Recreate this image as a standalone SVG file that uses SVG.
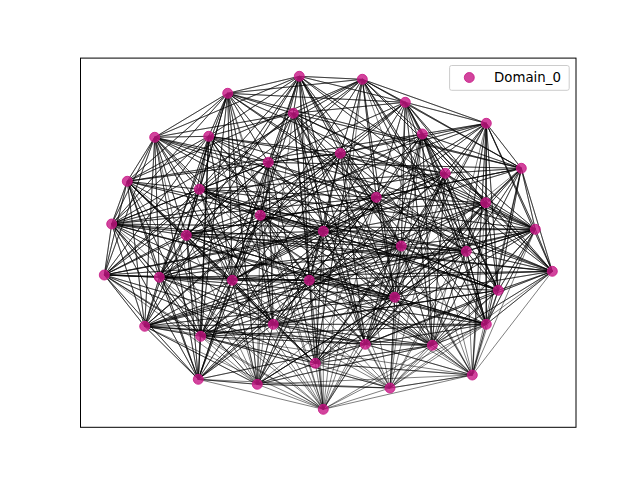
<svg xmlns="http://www.w3.org/2000/svg" width="640" height="480" viewBox="0 0 640 480">
<style>
.e{fill:none;stroke:#000;stroke-opacity:0.5;stroke-width:1;stroke-linejoin:round}
.n{fill:#C71585;fill-opacity:0.8;stroke:#C71585;stroke-opacity:0.8;stroke-width:1}
.lt{font-family:"DejaVu Sans",sans-serif;font-size:13.33px;fill:#000}
</style>
<rect x="0" y="0" width="640" height="480" fill="#fff"/>
<g id="edges">
<path class="e" d="M299.3 76.3L362.3 79.3 299.3 76.3 227.7 93.3 299.3 76.3 405.3 102.3 299.3 76.3 293.3 113.3 299.3 76.3 208.7 136.3 299.3 76.3 268.3 162.3 299.3 76.3 445.3 173.3 299.3 76.3 199.3 189.3 299.3 76.3 260.3 215.3 299.3 76.3 323.3 231.3 299.3 76.3 401.3 246 299.3 76.3 159.3 277.3 299.3 76.3 309.3 280.3 299.3 76.3 144.7 326.3 299.3 76.3 365.3 344.3 299.3 76.3 198.3 379.3 299.3 76.3 323.3 409.3"/>
<path class="e" d="M362.3 79.3L405.3 102.3 362.3 79.3 293.3 113.3 362.3 79.3 486.3 123.3 362.3 79.3 422.3 134 362.3 79.3 340.3 153.3 362.3 79.3 127.3 181.3 362.3 79.3 485.7 202.7 362.3 79.3 111.7 224 362.3 79.3 186.3 235.3 362.3 79.3 104.3 275 362.3 79.3 232.3 280.3 362.3 79.3 394.7 297.3 362.3 79.3 486.3 324.3 362.3 79.3 315.3 363.3 362.3 79.3 472.3 375"/>
<path class="e" d="M227.7 93.3L293.3 113.3 227.7 93.3 154.7 137.3 227.7 93.3 208.7 136.3 227.7 93.3 268.3 162.3 227.7 93.3 521.3 168.3 227.7 93.3 199.3 189.3 227.7 93.3 376.3 197.3 227.7 93.3 535.3 229.3 227.7 93.3 466.3 251.3 227.7 93.3 232.3 280.3 227.7 93.3 273.3 324.3 227.7 93.3 200.7 336.3 227.7 93.3 257.3 384.3 227.7 93.3 323.3 409.3"/>
<path class="e" d="M405.3 102.3L486.3 123.3 405.3 102.3 422.3 134 405.3 102.3 268.3 162.3 405.3 102.3 445.3 173.3 405.3 102.3 376.3 197.3 405.3 102.3 260.3 215.3 405.3 102.3 323.3 231.3 405.3 102.3 552.3 271.3 405.3 102.3 159.3 277.3 405.3 102.3 498.3 290.3 405.3 102.3 144.7 326.3 405.3 102.3 432.3 345.3 405.3 102.3 390 388"/>
<path class="e" d="M293.3 113.3L154.7 137.3 293.3 113.3 340.3 153.3 293.3 113.3 521.3 168.3 293.3 113.3 199.3 189.3 293.3 113.3 485.7 202.7 293.3 113.3 535.3 229.3 293.3 113.3 401.3 246 293.3 113.3 104.3 275 293.3 113.3 309.3 280.3 293.3 113.3 486.3 324.3 293.3 113.3 432.3 345.3 293.3 113.3 257.3 384.3"/>
<path class="e" d="M486.3 123.3L422.3 134 486.3 123.3 521.3 168.3 486.3 123.3 445.3 173.3 486.3 123.3 485.7 202.7 486.3 123.3 111.7 224 486.3 123.3 186.3 235.3 486.3 123.3 466.3 251.3 486.3 123.3 232.3 280.3 486.3 123.3 394.7 297.3 486.3 123.3 200.7 336.3 486.3 123.3 315.3 363.3 486.3 123.3 472.3 375 486.3 123.3 323.3 409.3"/>
<path class="e" d="M154.7 137.3L208.7 136.3 154.7 137.3 268.3 162.3 154.7 137.3 127.3 181.3 154.7 137.3 376.3 197.3 154.7 137.3 111.7 224 154.7 137.3 323.3 231.3 154.7 137.3 552.3 271.3 154.7 137.3 159.3 277.3 154.7 137.3 498.3 290.3 154.7 137.3 273.3 324.3 154.7 137.3 365.3 344.3 154.7 137.3 198.3 379.3 154.7 137.3 390 388"/>
<path class="e" d="M208.7 136.3L340.3 153.3 208.7 136.3 445.3 173.3 208.7 136.3 199.3 189.3 208.7 136.3 260.3 215.3 208.7 136.3 535.3 229.3 208.7 136.3 401.3 246 208.7 136.3 104.3 275 208.7 136.3 309.3 280.3 208.7 136.3 144.7 326.3 208.7 136.3 200.7 336.3 208.7 136.3 432.3 345.3 208.7 136.3 472.3 375"/>
<path class="e" d="M422.3 134L340.3 153.3 422.3 134 521.3 168.3 422.3 134 127.3 181.3 422.3 134 485.7 202.7 422.3 134 323.3 231.3 422.3 134 466.3 251.3 422.3 134 159.3 277.3 422.3 134 498.3 290.3 422.3 134 486.3 324.3 422.3 134 365.3 344.3 422.3 134 257.3 384.3 422.3 134 323.3 409.3"/>
<path class="e" d="M268.3 162.3L521.3 168.3 268.3 162.3 199.3 189.3 268.3 162.3 376.3 197.3 268.3 162.3 111.7 224 268.3 162.3 186.3 235.3 268.3 162.3 552.3 271.3 268.3 162.3 232.3 280.3 268.3 162.3 394.7 297.3 268.3 162.3 273.3 324.3 268.3 162.3 315.3 363.3 268.3 162.3 390 388"/>
<path class="e" d="M340.3 153.3L445.3 173.3 340.3 153.3 127.3 181.3 340.3 153.3 260.3 215.3 340.3 153.3 535.3 229.3 340.3 153.3 401.3 246 340.3 153.3 104.3 275 340.3 153.3 309.3 280.3 340.3 153.3 144.7 326.3 340.3 153.3 200.7 336.3 340.3 153.3 198.3 379.3 340.3 153.3 472.3 375"/>
<path class="e" d="M521.3 168.3L376.3 197.3 521.3 168.3 485.7 202.7 521.3 168.3 535.3 229.3 521.3 168.3 186.3 235.3 521.3 168.3 466.3 251.3 521.3 168.3 159.3 277.3 521.3 168.3 498.3 290.3 521.3 168.3 486.3 324.3 521.3 168.3 432.3 345.3 521.3 168.3 257.3 384.3"/>
<path class="e" d="M445.3 173.3L199.3 189.3 445.3 173.3 485.7 202.7 445.3 173.3 111.7 224 445.3 173.3 323.3 231.3 445.3 173.3 552.3 271.3 445.3 173.3 232.3 280.3 445.3 173.3 394.7 297.3 445.3 173.3 273.3 324.3 445.3 173.3 365.3 344.3 445.3 173.3 198.3 379.3 445.3 173.3 323.3 409.3"/>
<path class="e" d="M127.3 181.3L199.3 189.3 127.3 181.3 260.3 215.3 127.3 181.3 111.7 224 127.3 181.3 186.3 235.3 127.3 181.3 466.3 251.3 127.3 181.3 104.3 275 127.3 181.3 309.3 280.3 127.3 181.3 144.7 326.3 127.3 181.3 200.7 336.3 127.3 181.3 315.3 363.3 127.3 181.3 390 388"/>
<path class="e" d="M199.3 189.3L376.3 197.3 199.3 189.3 535.3 229.3 199.3 189.3 323.3 231.3 199.3 189.3 401.3 246 199.3 189.3 159.3 277.3 199.3 189.3 498.3 290.3 199.3 189.3 486.3 324.3 199.3 189.3 432.3 345.3 199.3 189.3 472.3 375"/>
<path class="e" d="M376.3 197.3L485.7 202.7 376.3 197.3 111.7 224 376.3 197.3 186.3 235.3 376.3 197.3 552.3 271.3 376.3 197.3 232.3 280.3 376.3 197.3 394.7 297.3 376.3 197.3 200.7 336.3 376.3 197.3 198.3 379.3 376.3 197.3 323.3 409.3"/>
<path class="e" d="M485.7 202.7L260.3 215.3 485.7 202.7 535.3 229.3 485.7 202.7 401.3 246 485.7 202.7 104.3 275 485.7 202.7 309.3 280.3 485.7 202.7 144.7 326.3 485.7 202.7 365.3 344.3 485.7 202.7 315.3 363.3 485.7 202.7 390 388"/>
<path class="e" d="M260.3 215.3L323.3 231.3 260.3 215.3 186.3 235.3 260.3 215.3 466.3 251.3 260.3 215.3 159.3 277.3 260.3 215.3 498.3 290.3 260.3 215.3 273.3 324.3 260.3 215.3 432.3 345.3 260.3 215.3 257.3 384.3"/>
<path class="e" d="M111.7 224L535.3 229.3 111.7 224 401.3 246 111.7 224 552.3 271.3 111.7 224 104.3 275 111.7 224 232.3 280.3 111.7 224 394.7 297.3 111.7 224 486.3 324.3 111.7 224 198.3 379.3 111.7 224 323.3 409.3"/>
<path class="e" d="M535.3 229.3L323.3 231.3 535.3 229.3 466.3 251.3 535.3 229.3 552.3 271.3 535.3 229.3 309.3 280.3 535.3 229.3 144.7 326.3 535.3 229.3 200.7 336.3 535.3 229.3 315.3 363.3 535.3 229.3 472.3 375"/>
<path class="e" d="M323.3 231.3L401.3 246 323.3 231.3 104.3 275 323.3 231.3 159.3 277.3 323.3 231.3 498.3 290.3 323.3 231.3 273.3 324.3 323.3 231.3 365.3 344.3 323.3 231.3 257.3 384.3 323.3 231.3 390 388"/>
<path class="e" d="M186.3 235.3L466.3 251.3 186.3 235.3 552.3 271.3 186.3 235.3 232.3 280.3 186.3 235.3 394.7 297.3 186.3 235.3 486.3 324.3 186.3 235.3 432.3 345.3 186.3 235.3 198.3 379.3 186.3 235.3 323.3 409.3"/>
<path class="e" d="M401.3 246L466.3 251.3 401.3 246 159.3 277.3 401.3 246 309.3 280.3 401.3 246 144.7 326.3 401.3 246 200.7 336.3 401.3 246 315.3 363.3 401.3 246 472.3 375"/>
<path class="e" d="M466.3 251.3L104.3 275 466.3 251.3 232.3 280.3 466.3 251.3 498.3 290.3 466.3 251.3 273.3 324.3 466.3 251.3 365.3 344.3 466.3 251.3 257.3 384.3 466.3 251.3 390 388"/>
<path class="e" d="M552.3 271.3L159.3 277.3 552.3 271.3 309.3 280.3 552.3 271.3 498.3 290.3 552.3 271.3 394.7 297.3 552.3 271.3 486.3 324.3 552.3 271.3 432.3 345.3 552.3 271.3 472.3 375"/>
<path class="e" d="M104.3 275L159.3 277.3 104.3 275 232.3 280.3 104.3 275 144.7 326.3 104.3 275 273.3 324.3 104.3 275 200.7 336.3 104.3 275 198.3 379.3 104.3 275 323.3 409.3"/>
<path class="e" d="M159.3 277.3L309.3 280.3 159.3 277.3 394.7 297.3 159.3 277.3 144.7 326.3 159.3 277.3 486.3 324.3 159.3 277.3 365.3 344.3 159.3 277.3 257.3 384.3"/>
<path class="e" d="M232.3 280.3L309.3 280.3 232.3 280.3 498.3 290.3 232.3 280.3 273.3 324.3 232.3 280.3 200.7 336.3 232.3 280.3 315.3 363.3 232.3 280.3 390 388"/>
<path class="e" d="M309.3 280.3L394.7 297.3 309.3 280.3 144.7 326.3 309.3 280.3 486.3 324.3 309.3 280.3 432.3 345.3 309.3 280.3 198.3 379.3 309.3 280.3 323.3 409.3"/>
<path class="e" d="M498.3 290.3L273.3 324.3 498.3 290.3 486.3 324.3 498.3 290.3 200.7 336.3 498.3 290.3 365.3 344.3 498.3 290.3 472.3 375"/>
<path class="e" d="M394.7 297.3L144.7 326.3 394.7 297.3 486.3 324.3 394.7 297.3 365.3 344.3 394.7 297.3 315.3 363.3 394.7 297.3 257.3 384.3 394.7 297.3 390 388"/>
<path class="e" d="M144.7 326.3L273.3 324.3 144.7 326.3 200.7 336.3 144.7 326.3 432.3 345.3 144.7 326.3 198.3 379.3 144.7 326.3 472.3 375"/>
<path class="e" d="M273.3 324.3L486.3 324.3 273.3 324.3 365.3 344.3 273.3 324.3 315.3 363.3 273.3 324.3 257.3 384.3 273.3 324.3 323.3 409.3"/>
<path class="e" d="M486.3 324.3L200.7 336.3 486.3 324.3 432.3 345.3 486.3 324.3 472.3 375 486.3 324.3 390 388"/>
<path class="e" d="M200.7 336.3L365.3 344.3 200.7 336.3 315.3 363.3 200.7 336.3 198.3 379.3 200.7 336.3 257.3 384.3"/>
<path class="e" d="M365.3 344.3L432.3 345.3 365.3 344.3 198.3 379.3 365.3 344.3 472.3 375 365.3 344.3 323.3 409.3"/>
<path class="e" d="M432.3 345.3L315.3 363.3 432.3 345.3 257.3 384.3 432.3 345.3 390 388"/>
<path class="e" d="M315.3 363.3L257.3 384.3 315.3 363.3 472.3 375 315.3 363.3 323.3 409.3"/>
<path class="e" d="M198.3 379.3L257.3 384.3 198.3 379.3 323.3 409.3"/>
<path class="e" d="M257.3 384.3L390 388 257.3 384.3 323.3 409.3"/>
<path class="e" d="M472.3 375L390 388 472.3 375 323.3 409.3"/>
<path class="e" d="M390 388L323.3 409.3"/>
<path class="e" d="M299.3 76.3L154.7 137.3 299.3 76.3 340.3 153.3 299.3 76.3 376.3 197.3 299.3 76.3 552.3 271.3 299.3 76.3 486.3 324.3 299.3 76.3 472.3 375"/>
<path class="e" d="M362.3 79.3L227.7 93.3 362.3 79.3 521.3 168.3 362.3 79.3 376.3 197.3 362.3 79.3 466.3 251.3 362.3 79.3 498.3 290.3 362.3 79.3 323.3 409.3"/>
<path class="e" d="M227.7 93.3L405.3 102.3 227.7 93.3 127.3 181.3 227.7 93.3 111.7 224 227.7 93.3 186.3 235.3 227.7 93.3 159.3 277.3 227.7 93.3 394.7 297.3 227.7 93.3 315.3 363.3"/>
<path class="e" d="M405.3 102.3L293.3 113.3 405.3 102.3 521.3 168.3 405.3 102.3 485.7 202.7 405.3 102.3 401.3 246 405.3 102.3 486.3 324.3 405.3 102.3 472.3 375"/>
<path class="e" d="M293.3 113.3L208.7 136.3 293.3 113.3 268.3 162.3 293.3 113.3 260.3 215.3 293.3 113.3 323.3 231.3 293.3 113.3 394.7 297.3 293.3 113.3 365.3 344.3 293.3 113.3 323.3 409.3"/>
<path class="e" d="M486.3 123.3L340.3 153.3 486.3 123.3 535.3 229.3 486.3 123.3 552.3 271.3 486.3 123.3 498.3 290.3 486.3 123.3 486.3 324.3 486.3 123.3 432.3 345.3"/>
<path class="e" d="M154.7 137.3L199.3 189.3 154.7 137.3 186.3 235.3 154.7 137.3 104.3 275 154.7 137.3 232.3 280.3 154.7 137.3 144.7 326.3 154.7 137.3 200.7 336.3"/>
<path class="e" d="M208.7 136.3L268.3 162.3 208.7 136.3 127.3 181.3 208.7 136.3 111.7 224 208.7 136.3 186.3 235.3 208.7 136.3 232.3 280.3 208.7 136.3 198.3 379.3 208.7 136.3 323.3 409.3"/>
<path class="e" d="M422.3 134L445.3 173.3 422.3 134 376.3 197.3 422.3 134 535.3 229.3 422.3 134 401.3 246 422.3 134 552.3 271.3 422.3 134 432.3 345.3 422.3 134 390 388"/>
<path class="e" d="M268.3 162.3L340.3 153.3 268.3 162.3 260.3 215.3 268.3 162.3 323.3 231.3 268.3 162.3 159.3 277.3 268.3 162.3 200.7 336.3 268.3 162.3 257.3 384.3"/>
<path class="e" d="M340.3 153.3L376.3 197.3 340.3 153.3 323.3 231.3 340.3 153.3 466.3 251.3 340.3 153.3 394.7 297.3 340.3 153.3 365.3 344.3 340.3 153.3 390 388"/>
<path class="e" d="M521.3 168.3L445.3 173.3 521.3 168.3 552.3 271.3 521.3 168.3 394.7 297.3 521.3 168.3 365.3 344.3 521.3 168.3 472.3 375"/>
<path class="e" d="M445.3 173.3L376.3 197.3 445.3 173.3 535.3 229.3 445.3 173.3 401.3 246 445.3 173.3 498.3 290.3 445.3 173.3 486.3 324.3 445.3 173.3 432.3 345.3 445.3 173.3 390 388"/>
<path class="e" d="M127.3 181.3L159.3 277.3 127.3 181.3 232.3 280.3 127.3 181.3 273.3 324.3 127.3 181.3 198.3 379.3 127.3 181.3 257.3 384.3"/>
<path class="e" d="M199.3 189.3L260.3 215.3 199.3 189.3 111.7 224 199.3 189.3 186.3 235.3 199.3 189.3 104.3 275 199.3 189.3 232.3 280.3 199.3 189.3 273.3 324.3 199.3 189.3 257.3 384.3"/>
<path class="e" d="M376.3 197.3L323.3 231.3 376.3 197.3 401.3 246 376.3 197.3 466.3 251.3 376.3 197.3 309.3 280.3 376.3 197.3 273.3 324.3 376.3 197.3 315.3 363.3"/>
<path class="e" d="M485.7 202.7L466.3 251.3 485.7 202.7 552.3 271.3 485.7 202.7 498.3 290.3 485.7 202.7 394.7 297.3 485.7 202.7 486.3 324.3 485.7 202.7 472.3 375"/>
<path class="e" d="M260.3 215.3L401.3 246 260.3 215.3 232.3 280.3 260.3 215.3 309.3 280.3 260.3 215.3 394.7 297.3 260.3 215.3 200.7 336.3 260.3 215.3 198.3 379.3 260.3 215.3 323.3 409.3"/>
<path class="e" d="M111.7 224L186.3 235.3 111.7 224 159.3 277.3 111.7 224 144.7 326.3 111.7 224 273.3 324.3 111.7 224 200.7 336.3 111.7 224 257.3 384.3"/>
<path class="e" d="M535.3 229.3L401.3 246 535.3 229.3 498.3 290.3 535.3 229.3 394.7 297.3 535.3 229.3 486.3 324.3 535.3 229.3 432.3 345.3 535.3 229.3 390 388"/>
<path class="e" d="M323.3 231.3L186.3 235.3 323.3 231.3 232.3 280.3 323.3 231.3 309.3 280.3 323.3 231.3 394.7 297.3 323.3 231.3 315.3 363.3 323.3 231.3 323.3 409.3"/>
<path class="e" d="M186.3 235.3L104.3 275 186.3 235.3 159.3 277.3 186.3 235.3 144.7 326.3 186.3 235.3 273.3 324.3 186.3 235.3 200.7 336.3 186.3 235.3 257.3 384.3"/>
<path class="e" d="M401.3 246L498.3 290.3 401.3 246 394.7 297.3 401.3 246 273.3 324.3 401.3 246 365.3 344.3 401.3 246 432.3 345.3 401.3 246 390 388"/>
<path class="e" d="M466.3 251.3L552.3 271.3 466.3 251.3 394.7 297.3 466.3 251.3 486.3 324.3 466.3 251.3 432.3 345.3 466.3 251.3 472.3 375"/>
<path class="e" d="M552.3 271.3L365.3 344.3 552.3 271.3 390 388"/>
<path class="e" d="M104.3 275L309.3 280.3 104.3 275 315.3 363.3 104.3 275 257.3 384.3"/>
<path class="e" d="M159.3 277.3L273.3 324.3 159.3 277.3 200.7 336.3 159.3 277.3 198.3 379.3 159.3 277.3 323.3 409.3"/>
<path class="e" d="M232.3 280.3L144.7 326.3 232.3 280.3 198.3 379.3 232.3 280.3 257.3 384.3 232.3 280.3 323.3 409.3"/>
<path class="e" d="M309.3 280.3L273.3 324.3 309.3 280.3 200.7 336.3 309.3 280.3 365.3 344.3 309.3 280.3 315.3 363.3 309.3 280.3 257.3 384.3 309.3 280.3 472.3 375"/>
<path class="e" d="M498.3 290.3L432.3 345.3 498.3 290.3 390 388"/>
<path class="e" d="M394.7 297.3L273.3 324.3 394.7 297.3 432.3 345.3 394.7 297.3 472.3 375 394.7 297.3 323.3 409.3"/>
<path class="e" d="M144.7 326.3L365.3 344.3 144.7 326.3 257.3 384.3 144.7 326.3 323.3 409.3"/>
<path class="e" d="M273.3 324.3L200.7 336.3 273.3 324.3 432.3 345.3 273.3 324.3 198.3 379.3 273.3 324.3 390 388"/>
<path class="e" d="M486.3 324.3L365.3 344.3 486.3 324.3 323.3 409.3"/>
<path class="e" d="M200.7 336.3L390 388 200.7 336.3 323.3 409.3"/>
<path class="e" d="M365.3 344.3L315.3 363.3 365.3 344.3 390 388"/>
<path class="e" d="M432.3 345.3L472.3 375 432.3 345.3 323.3 409.3"/>
<path class="e" d="M315.3 363.3L390 388"/>
<path class="e" d="M198.3 379.3L390 388"/>
<path class="e" d="M257.3 384.3L472.3 375"/>
</g>
<g id="nodes">
<g id="n0"><circle class="n" cx="299.3" cy="76.3" r="5"/></g>
<g id="n1"><circle class="n" cx="362.3" cy="79.3" r="5"/></g>
<g id="n2"><circle class="n" cx="227.7" cy="93.3" r="5"/></g>
<g id="n3"><circle class="n" cx="405.3" cy="102.3" r="5"/></g>
<g id="n4"><circle class="n" cx="293.3" cy="113.3" r="5"/></g>
<g id="n5"><circle class="n" cx="486.3" cy="123.3" r="5"/></g>
<g id="n6"><circle class="n" cx="154.7" cy="137.3" r="5"/></g>
<g id="n7"><circle class="n" cx="208.7" cy="136.3" r="5"/></g>
<g id="n8"><circle class="n" cx="422.3" cy="134" r="5"/></g>
<g id="n9"><circle class="n" cx="268.3" cy="162.3" r="5"/></g>
<g id="n10"><circle class="n" cx="340.3" cy="153.3" r="5"/></g>
<g id="n11"><circle class="n" cx="521.3" cy="168.3" r="5"/></g>
<g id="n12"><circle class="n" cx="445.3" cy="173.3" r="5"/></g>
<g id="n13"><circle class="n" cx="127.3" cy="181.3" r="5"/></g>
<g id="n14"><circle class="n" cx="199.3" cy="189.3" r="5"/></g>
<g id="n15"><circle class="n" cx="376.3" cy="197.3" r="5"/></g>
<g id="n16"><circle class="n" cx="485.7" cy="202.7" r="5"/></g>
<g id="n17"><circle class="n" cx="260.3" cy="215.3" r="5"/></g>
<g id="n18"><circle class="n" cx="111.7" cy="224" r="5"/></g>
<g id="n19"><circle class="n" cx="535.3" cy="229.3" r="5"/></g>
<g id="n20"><circle class="n" cx="323.3" cy="231.3" r="5"/></g>
<g id="n21"><circle class="n" cx="186.3" cy="235.3" r="5"/></g>
<g id="n22"><circle class="n" cx="401.3" cy="246" r="5"/></g>
<g id="n23"><circle class="n" cx="466.3" cy="251.3" r="5"/></g>
<g id="n24"><circle class="n" cx="552.3" cy="271.3" r="5"/></g>
<g id="n25"><circle class="n" cx="104.3" cy="275" r="5"/></g>
<g id="n26"><circle class="n" cx="159.3" cy="277.3" r="5"/></g>
<g id="n27"><circle class="n" cx="232.3" cy="280.3" r="5"/></g>
<g id="n28"><circle class="n" cx="309.3" cy="280.3" r="5"/></g>
<g id="n29"><circle class="n" cx="498.3" cy="290.3" r="5"/></g>
<g id="n30"><circle class="n" cx="394.7" cy="297.3" r="5"/></g>
<g id="n31"><circle class="n" cx="144.7" cy="326.3" r="5"/></g>
<g id="n32"><circle class="n" cx="273.3" cy="324.3" r="5"/></g>
<g id="n33"><circle class="n" cx="486.3" cy="324.3" r="5"/></g>
<g id="n34"><circle class="n" cx="200.7" cy="336.3" r="5"/></g>
<g id="n35"><circle class="n" cx="365.3" cy="344.3" r="5"/></g>
<g id="n36"><circle class="n" cx="432.3" cy="345.3" r="5"/></g>
<g id="n37"><circle class="n" cx="315.3" cy="363.3" r="5"/></g>
<g id="n38"><circle class="n" cx="198.3" cy="379.3" r="5"/></g>
<g id="n39"><circle class="n" cx="257.3" cy="384.3" r="5"/></g>
<g id="n40"><circle class="n" cx="472.3" cy="375" r="5"/></g>
<g id="n41"><circle class="n" cx="390" cy="388" r="5"/></g>
<g id="n42"><circle class="n" cx="323.3" cy="409.3" r="5"/></g>
</g>
<rect x="80.5" y="58.1" width="495.5" height="369.2" fill="none" stroke="#000" stroke-width="1"/>
<g id="legend">
<rect x="449.6" y="65.5" width="119.6" height="24.8" rx="2" ry="2" fill="#fff" fill-opacity="0.8" stroke="#cccccc" stroke-width="1"/>
<circle class="n" cx="469.3" cy="77.5" r="5"/>
<text class="lt" x="494" y="82.3">Domain_0</text>
</g>
</svg>
